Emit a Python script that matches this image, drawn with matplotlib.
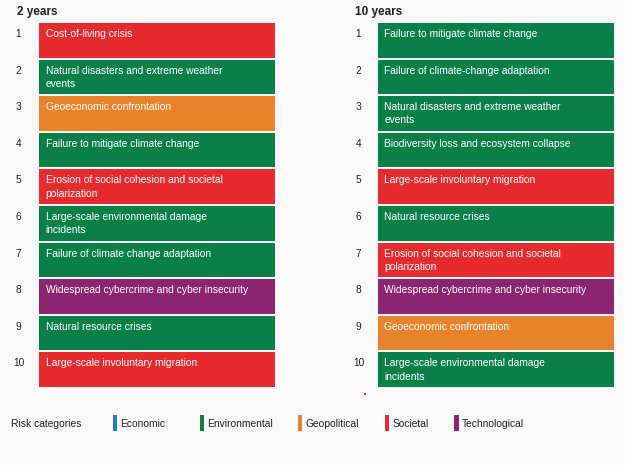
import matplotlib
matplotlib.use("Agg")
import matplotlib.pyplot as plt
from matplotlib.patches import Rectangle

plt.rcParams['font.family'] = ['Liberation Sans', 'DejaVu Sans']

ranks = list(range(1, 11))

titles = ["2 years", "10 years"]

left_labels = [
    "Cost-of-living crisis",
    "Natural disasters and extreme weather\nevents",
    "Geoeconomic confrontation",
    "Failure to mitigate climate change",
    "Erosion of social cohesion and societal\npolarization",
    "Large-scale environmental damage\nincidents",
    "Failure of climate change adaptation",
    "Widespread cybercrime and cyber insecurity",
    "Natural resource crises",
    "Large-scale involuntary migration",
]
left_cats = ["Societal", "Environmental", "Geopolitical", "Environmental", "Societal",
             "Environmental", "Environmental", "Technological", "Environmental", "Societal"]

right_labels = [
    "Failure to mitigate climate change",
    "Failure of climate-change adaptation",
    "Natural disasters and extreme weather\nevents",
    "Biodiversity loss and ecosystem collapse",
    "Large-scale involuntary migration",
    "Natural resource crises",
    "Erosion of social cohesion and societal\npolarization",
    "Widespread cybercrime and cyber insecurity",
    "Geoeconomic confrontation",
    "Large-scale environmental damage\nincidents",
]
right_cats = ["Environmental", "Environmental", "Environmental", "Environmental", "Societal",
              "Environmental", "Societal", "Technological", "Geopolitical", "Environmental"]

categories = ["Economic", "Environmental", "Geopolitical", "Societal", "Technological"]
cat_colors = {
    "Economic": "#2b7bb9",
    "Environmental": "#0a8048",
    "Geopolitical": "#e8822b",
    "Societal": "#e52b2d",
    "Technological": "#8c2571",
}
legend_title = "Risk categories"

W, H = 625, 465
BG = "#f8f8f8"
fig = plt.figure(figsize=(W / 100, H / 100), dpi=100, facecolor=BG)

# geometry in pixels
top_px, bot_px = 21.95, 388.05
col_left = [39, 378]
col_w = 236
rank_x = [18.5, 358.5]
title_x = [17, 355]
line_gap_px = 13.2

panels = [(left_labels, left_cats), (right_labels, right_cats)]
for i, (labels, cats) in enumerate(panels):
    ax = fig.add_axes([col_left[i] / W, 1 - bot_px / H, col_w / W, (bot_px - top_px) / H])
    ax.set_facecolor(BG)
    ax.barh(ranks, [1] * len(ranks), left=0, height=0.943,
            color=[cat_colors[c] for c in cats], linewidth=0)
    ax.set_xlim(0, 1)
    ax.set_ylim(10.5, 0.5)
    ax.axis("off")
    pitch = (bot_px - top_px) / 10
    for r, lab in zip(ranks, labels):
        yb = r - 0.5 + 15.0 / pitch
        for k, line in enumerate(lab.split("\n")):
            ax.text(6.5 / col_w, yb + k * line_gap_px / pitch, line, color="white",
                    fontsize=7.35, va="baseline", ha="left")
        ax.text((rank_x[i] - col_left[i]) / col_w, yb, str(r), color="#222222",
                fontsize=7.3, va="baseline", ha="center", clip_on=False)
    fig.text(title_x[i] / W, 1 - 14.5 / H, titles[i], fontsize=8.5, fontweight="bold",
             color="#222222", ha="left", va="baseline")

# legend
lx_marker = [112.8, 200.0, 298.0, 385.0, 454.4]
fig.text(11.2 / W, 1 - 426.8 / H, legend_title, fontsize=7.4, color="#222222",
         ha="left", va="baseline")
for c, mx in zip(categories, lx_marker):
    fig.patches.append(Rectangle((mx / W, 1 - 431 / H), 4.2 / W, 16 / H,
                                 transform=fig.transFigure, facecolor=cat_colors[c],
                                 edgecolor="none"))
    fig.text((mx + 7.4) / W, 1 - 426.8 / H, c, fontsize=7.4, color="#222222",
             ha="left", va="baseline")

# small red dot
fig.patches.append(Rectangle((364 / W, 1 - 395.3 / H), 2 / W, 2 / H,
                             transform=fig.transFigure, facecolor="#e52b2d",
                             edgecolor="none"))

fig.savefig("out.png", dpi=100, facecolor=BG)
